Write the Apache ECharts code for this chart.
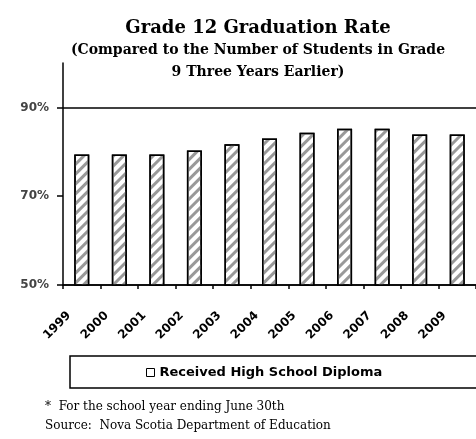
<!DOCTYPE html>
<html>
<head>
<meta charset="utf-8">
<script src="https://cdn.jsdelivr.net/npm/echarts@6/dist/echarts.min.js"></script>
<style>
html, body { margin: 0; padding: 0; background: #fff; }
#chart { width: 476px; height: 439px; }
</style>
</head>
<body>
<div id="chart"></div>
<script>
// data
var years = ['1999', '2000', '2001', '2002', '2003', '2004', '2005', '2006', '2007', '2008', '2009']
var gradRate = [79.4, 79.4, 79.4, 80.3, 81.7, 83.0, 84.3, 85.2, 85.2, 83.9, 83.9]
var yTicks = [50, 70, 90]
var seriesName = 'Received High School Diploma'

var serif = '"DejaVu Serif", "Liberation Serif", serif'
var sans = '"DejaVu Sans", "Liberation Sans", sans-serif'

var myChart = echarts.init(document.getElementById('chart'))
var option = {
  animation: false,
  title: {
    text: 'Grade 12 Graduation Rate',
    subtext: '(Compared to the Number of Students in Grade\n9 Three Years Earlier)',
    left: 253,
    textAlign: 'center',
    top: 14,
    itemGap: 2,
    textStyle: { fontFamily: serif, fontSize: 18, fontWeight: 'bold', color: '#000' },
    subtextStyle: { fontFamily: serif, fontSize: 14, fontWeight: 'bold', color: '#000', lineHeight: 22 }
  },
  grid: { left: 63, right: -3, top: 63, bottom: 154, containLabel: false },
  legend: {
    data: [seriesName],
    left: 70,
    top: 356,
    padding: [10, 200, 9, 76],
    borderColor: '#000',
    borderWidth: 1.5,
    icon: 'rect',
    itemWidth: 8,
    itemHeight: 8,
    itemGap: 4,
    itemStyle: { color: '#fff', borderColor: '#000', borderWidth: 1, decal: 'none' },
    textStyle: { fontFamily: sans, fontSize: 13, fontWeight: 'bold', color: '#000' }
  },
  xAxis: {
    type: 'category',
    data: years,
    axisLine: { lineStyle: { color: '#000', width: 1.5 } },
    axisTick: { show: true, length: 4, lineStyle: { color: '#000', width: 1.5 } },
    axisLabel: {
      rotate: 45,
      margin: 16,
      padding: [0, 18, 0, 0],
      fontFamily: sans,
      fontSize: 12,
      fontWeight: 'bold',
      color: '#000'
    }
  },
  yAxis: {
    type: 'value',
    min: 50,
    max: 100,
    interval: 10,
    axisLine: { show: true, lineStyle: { color: '#000', width: 1.5 } },
    axisTick: { show: true, length: 6, customValues: yTicks, lineStyle: { color: '#000', width: 1.5 } },
    axisLabel: {
      customValues: yTicks,
      margin: 14,
      fontFamily: sans,
      fontSize: 12,
      fontWeight: 'bold',
      color: '#444',
      formatter: '{value}%'
    },
    splitLine: {
      show: true,
      lineStyle: { color: ['#000', 'rgba(0,0,0,0)', '#000', 'rgba(0,0,0,0)', '#000', 'rgba(0,0,0,0)'], width: 1.5 }
    }
  },
  series: [
    {
      name: seriesName,
      type: 'bar',
      data: gradRate,
      barWidth: 15,
      itemStyle: {
        color: '#fff',
        borderColor: '#000',
        borderWidth: 1.5,
        decal: {
          symbol: 'rect',
          dashArrayX: [1, 0],
          dashArrayY: [3, 4],
          rotation: -Math.PI / 4,
          color: '#999'
        }
      }
    }
  ],
  graphic: [
    {
      type: 'text',
      left: 45,
      top: 401,
      style: { text: '*  For the school year ending June 30th', font: '12px ' + serif, fill: '#000' }
    },
    {
      type: 'text',
      left: 45,
      top: 420,
      style: { text: 'Source:  Nova Scotia Department of Education', font: '12px ' + serif, fill: '#000' }
    }
  ]
}
option && myChart.setOption(option)
</script>
</body>
</html>
